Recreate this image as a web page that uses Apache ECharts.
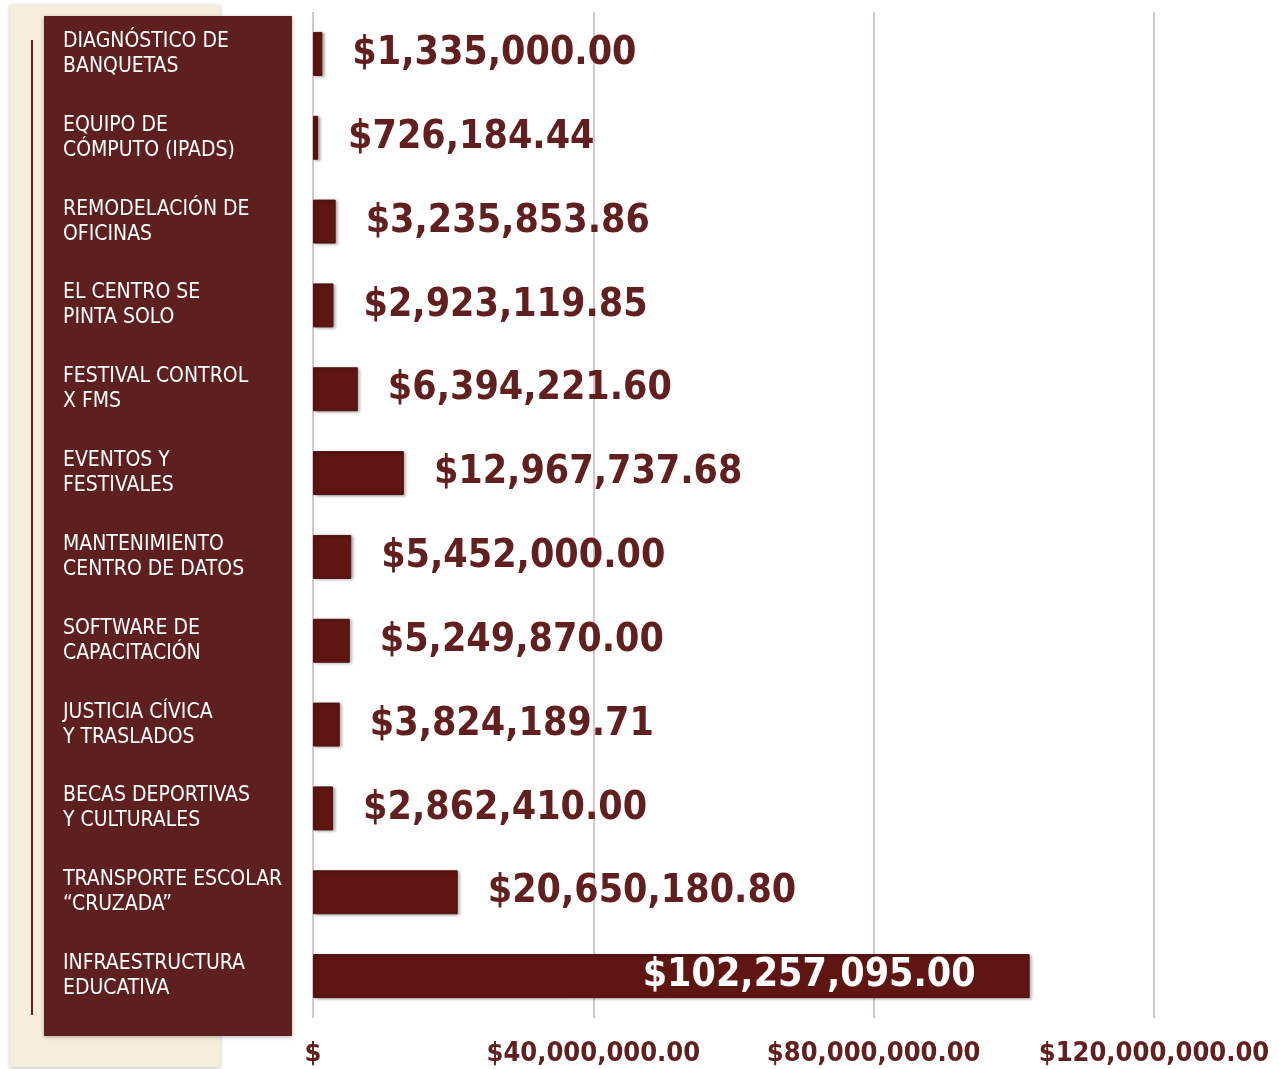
<!DOCTYPE html>
<html>
<head>
<meta charset="utf-8">
<script src="https://cdn.jsdelivr.net/npm/echarts@6/dist/echarts.min.js"></script>
<style>
html,body{margin:0;padding:0;background:#fff;}
#chart{width:1279px;height:1069px;}
</style>
</head>
<body>
<div id="chart"></div>
<script>
const categories = [
  'DIAGNÓSTICO DE\nBANQUETAS',
  'EQUIPO DE\nCÓMPUTO (IPADS)',
  'REMODELACIÓN DE\nOFICINAS',
  'EL CENTRO SE\nPINTA SOLO',
  'FESTIVAL CONTROL\nX FMS',
  'EVENTOS Y\nFESTIVALES',
  'MANTENIMIENTO\nCENTRO DE DATOS',
  'SOFTWARE DE\nCAPACITACIÓN',
  'JUSTICIA CÍVICA\nY TRASLADOS',
  'BECAS DEPORTIVAS\nY CULTURALES',
  'TRANSPORTE ESCOLAR\n“CRUZADA”',
  'INFRAESTRUCTURA\nEDUCATIVA'
];
const amounts = [
  1335000.00, 726184.44, 3235853.86, 2923119.85, 6394221.60, 12967737.68,
  5452000.00, 5249870.00, 3824189.71, 2862410.00, 20650180.80, 102257095.00
];
const tickValues = [0, 40000000, 80000000, 120000000];
const tickLabels = ['$', '$40,000,000.00', '$80,000,000.00', '$120,000,000.00'];

const FONT = '"DejaVu Sans Condensed", "DejaVu Sans", sans-serif';
const DARK = '#61201f';
const BAR = '#5f1511';

function money(v) {
  return '$' + v.toLocaleString('en-US', {minimumFractionDigits: 2, maximumFractionDigits: 2});
}

const maxVal = Math.max.apply(null, amounts);
const seriesData = amounts.map(v => {
  const item = {value: v};
  if (v === maxVal) {
    item.label = {position: 'insideRight', color: '#ffffff', distance: 54};
  }
  return item;
});

const chart = echarts.init(document.getElementById('chart'), null, {renderer: 'canvas'});
chart.setOption({
  backgroundColor: '#ffffff',
  animation: false,
  graphic: [
    {type: 'rect', z: -20, shape: {x: 10, y: 5, width: 210, height: 1062},
     style: {fill: '#f5eedb', shadowBlur: 4, shadowColor: 'rgba(0,0,0,0.25)', shadowOffsetY: 1}},
    {type: 'rect', z: -19, shape: {x: 31, y: 40, width: 2, height: 975},
     style: {fill: '#6b1f1f'}},
    {type: 'rect', z: -18, shape: {x: 44, y: 16, width: 248, height: 1020},
     style: {fill: '#5e1f1f', shadowBlur: 4, shadowColor: 'rgba(0,0,0,0.3)', shadowOffsetY: 1}}
  ],
  grid: {left: 313, right: 125, top: 12, bottom: 51, containLabel: false},
  xAxis: {
    type: 'value',
    min: 0,
    max: 120000000,
    interval: 40000000,
    axisLine: {show: false},
    axisTick: {show: false},
    splitLine: {show: true, lineStyle: {color: '#d9c6c8', width: 2}},
    axisLabel: {
      margin: 22,
      fontFamily: FONT,
      fontWeight: 'bold',
      fontSize: 27,
      color: DARK,
      showMinLabel: true,
      showMaxLabel: true,
      hideOverlap: false,
      formatter: v => {
        const i = tickValues.indexOf(v);
        return i >= 0 ? tickLabels[i] : '';
      }
    }
  },
  yAxis: {
    type: 'category',
    data: categories,
    inverse: true,
    axisLine: {show: false},
    axisTick: {show: false},
    splitLine: {show: false},
    axisLabel: {
      margin: 250,
      align: 'left',
      fontFamily: FONT,
      fontSize: 21,
      lineHeight: 25,
      color: '#ffffff'
    }
  },
  series: [{
    type: 'bar',
    data: seriesData,
    barWidth: 44,
    itemStyle: {
      color: BAR,
      borderColor: '#4e1512',
      borderWidth: 1,
      shadowBlur: 3,
      shadowColor: 'rgba(0,0,0,0.35)',
      shadowOffsetX: 2,
      shadowOffsetY: 1
    },
    label: {
      show: true,
      position: 'right',
      distance: 30,
      fontFamily: FONT,
      fontWeight: 'bold',
      fontSize: 39,
      color: DARK,
      formatter: p => money(p.value)
    }
  }]
});
</script>
</body>
</html>
